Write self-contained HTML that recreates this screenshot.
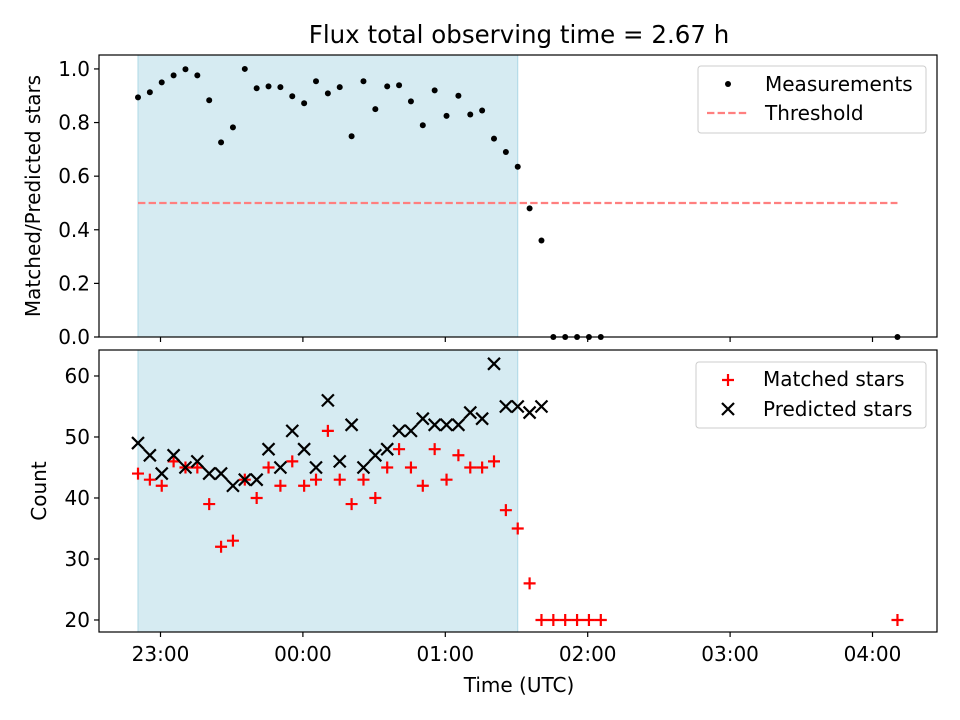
<!DOCTYPE html>
<html><head><meta charset="utf-8">
<style>
html,body{margin:0;padding:0;background:#fff;}
svg{display:block;font-family:"DejaVu Sans","Liberation Sans",sans-serif;}
</style></head>
<body>
<svg id="chart" width="960" height="720" viewBox="0 0 960 720"></svg>
<script>
const sampleIdx = [0,1,2,3,4,5,6,7,8,9,10,11,12,13,14,15,16,17,18,19,20,21,22,23,24,25,26,27,28,29,30,31,32,33,34,35,36,37,38,39,64];
const ratioValues = [0.894,0.913,0.950,0.976,0.999,0.976,0.883,0.726,0.782,1.0,0.928,0.935,0.932,0.898,0.872,0.954,0.909,0.932,0.749,0.954,0.85,0.935,0.939,0.879,0.79,0.92,0.825,0.90,0.83,0.845,0.74,0.69,0.635,0.48,0.36,0,0,0,0,0,0];
const matchedValues = [44,43,42,46,45,45,39,32,33,43,40,45,42,46,42,43,51,43,39,43,40,45,48,45,42,48,43,47,45,45,46,38,35,26,20,20,20,20,20,20,20];
const predictedIdx = [0,1,2,3,4,5,6,7,8,9,10,11,12,13,14,15,16,17,18,19,20,21,22,23,24,25,26,27,28,29,30,31,32,33,34];
const predictedValues = [49,47,44,47,45,46,44,44,42,43,43,48,45,51,48,45,56,46,52,45,47,48,51,51,53,52,52,52,54,53,62,55,55,54,55];
const thresholdValue = 0.5;
const shadeStartIdx = 0, shadeEndIdx = 32, thresholdEndIdx = 64;
const xTickHours = [23,24,25,26,27,28];
const xTickLabels = ["23:00","00:00","01:00","02:00","03:00","04:00"];
const ratioTicks = [0,0.2,0.4,0.6,0.8,1.0];
const ratioTickLabels = ["0.0","0.2","0.4","0.6","0.8","1.0"];
const countTicks = [20,30,40,50,60];

const T0 = 22.842, STEP = 1/12;
const L=99,R=937, T1=55,B1=337, T2=350,B2=632;
const FS=20;
const tx = h => 160.5 + (h-23)*142.4;
const ix = i => tx(T0 + i*STEP);
const yR = v => B1 - (v-0)/(1.052)*(B1-T1);
const yC = v => B2 - (v-18.03)/(64.26-18.03)*(B2-T2);

const svg = document.getElementById('chart');
const NS='http://www.w3.org/2000/svg';
function mk(tag, attrs, parent){const e=document.createElementNS(NS,tag);for(const k in attrs)e.setAttribute(k,attrs[k]);(parent||svg).appendChild(e);return e;}

function panel(top,bottom,nm){
  const g=mk('g',{});
  
  
  const sh=mk('rect',{x:ix(shadeStartIdx),y:top,width:ix(shadeEndIdx)-ix(shadeStartIdx),height:bottom-top,fill:'#add8e6','fill-opacity':0.5,stroke:'#add8e6','stroke-width':1},g);
  
  
  return g;
}
function frame(top,bottom,g){
  mk('rect',{x:L,y:top,width:R-L,height:bottom-top,fill:'none',stroke:'#000','stroke-width':1.2},g);
  xTickHours.forEach(h=>{mk('line',{x1:tx(h),x2:tx(h),y1:bottom,y2:bottom+5,stroke:'#000','stroke-width':1.2},g);});
}
const title=mk('text',{x:519,y:43,'text-anchor':'middle','font-size':24.5});
title.textContent='Flux total observing time = 2.67 h';



const g1=panel(T1,B1,'ratio-panel');
const th=mk('line',{x1:ix(0),x2:ix(thresholdEndIdx),y1:yR(thresholdValue),y2:yR(thresholdValue),stroke:'#ff7f7f','stroke-width':2.2,'stroke-dasharray':'7.4,3.2'},g1);


sampleIdx.forEach((i,k)=>{
  const c=mk('circle',{cx:ix(i),cy:yR(ratioValues[k]),r:3,fill:'#000'},g1);
  
  
});
frame(T1,B1,g1);
ratioTicks.forEach((v,k)=>{
  mk('line',{x1:L-5,x2:L,y1:yR(v),y2:yR(v),stroke:'#000','stroke-width':1.2},g1);
  const t=mk('text',{x:L-9,y:yR(v)+7,'text-anchor':'end','font-size':FS},g1);
  t.textContent=ratioTickLabels[k];
  
  
});
const yl1=mk('text',{x:40,y:196,'text-anchor':'middle','font-size':FS,transform:'rotate(-90 40 196)'});
yl1.textContent='Matched/Predicted stars';



const g2=panel(T2,B2,'count-panel');
function plus(x,y,g){return mk('path',{d:`M${x-6},${y}H${x+6}M${x},${y-6}V${y+6}`,stroke:'#f00','stroke-width':2.2,fill:'none'},g);}
function cross(x,y,g){return mk('path',{d:`M${x-6},${y-6}L${x+6},${y+6}M${x-6},${y+6}L${x+6},${y-6}`,stroke:'#000','stroke-width':2.2,fill:'none'},g);}
sampleIdx.forEach((i,k)=>{
  const p=plus(ix(i),yC(matchedValues[k]),g2);
  
  
});
predictedIdx.forEach((i,k)=>{
  const p=cross(ix(i),yC(predictedValues[k]),g2);
  
  
});
frame(T2,B2,g2);
countTicks.forEach(v=>{
  mk('line',{x1:L-5,x2:L,y1:yC(v),y2:yC(v),stroke:'#000','stroke-width':1.2},g2);
  const t=mk('text',{x:L-9,y:yC(v)+7,'text-anchor':'end','font-size':FS},g2);
  t.textContent=String(v);
  
  
});
xTickHours.forEach((h,k)=>{
  const t=mk('text',{x:tx(h),y:B2+29,'text-anchor':'middle','font-size':FS},g2);
  t.textContent=xTickLabels[k];
  
  
});
const yl2=mk('text',{x:46,y:491,'text-anchor':'middle','font-size':FS,transform:'rotate(-90 46 491)'});
yl2.textContent='Count';


const xl=mk('text',{x:519,y:692,'text-anchor':'middle','font-size':FS});
xl.textContent='Time (UTC)';



function legend(x,y,w,h,nm){
  const g=mk('g',{});
  
  
  mk('rect',{x:x,y:y,width:w,height:h,rx:3,fill:'#fff','fill-opacity':0.8,stroke:'#ccc','stroke-width':1},g);
  return g;
}
const lg1=legend(698,66,228,67,'legend-ratio');
mk('circle',{cx:728,cy:84,r:3,fill:'#000'},lg1);
let t=mk('text',{x:765,y:91,'font-size':FS},lg1);t.textContent='Measurements';
mk('line',{x1:707,x2:749,y1:113,y2:113,stroke:'#ff7f7f','stroke-width':2.2,'stroke-dasharray':'7.4,3.2'},lg1);
t=mk('text',{x:765,y:120,'font-size':FS},lg1);t.textContent='Threshold';

const lg2=legend(696,362,230,66,'legend-count');
plus(728,380,lg2);
t=mk('text',{x:763,y:386,'font-size':FS},lg2);t.textContent='Matched stars';
cross(728,409,lg2);
t=mk('text',{x:763,y:416,'font-size':FS},lg2);t.textContent='Predicted stars';
</script>
</body></html>
